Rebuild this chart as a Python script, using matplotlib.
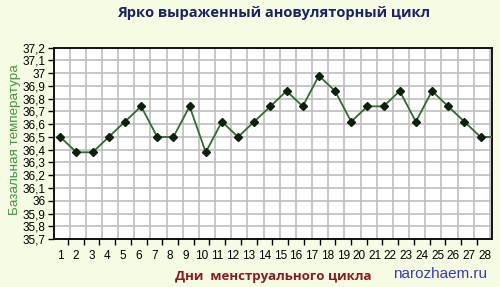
import numpy as np
import matplotlib.pyplot as plt

# basal temperature, days 1..28 (the last point sits just past the right edge)
days = np.arange(1, 29)
temp = [36.5, 36.38, 36.38, 36.5, 36.62, 36.74, 36.5, 36.5, 36.74, 36.38,
        36.62, 36.5, 36.62, 36.74, 36.86, 36.74, 36.98, 36.86, 36.62, 36.74,
        36.74, 36.86, 36.62, 36.86, 36.74, 36.62, 36.5, 36.5]
day_labels = [str(d) for d in range(1, 29)]
yticks = np.round(np.arange(35.7, 37.21, 0.1), 1)

bg = '#f6fbe4'
plt.rcParams['font.family'] = ['Liberation Sans', 'DejaVu Sans']

fig = plt.figure(figsize=(5, 2.87), dpi=100, facecolor=bg)
ax = fig.add_axes([0.107, 0.167, 0.876, 0.667])
ax.set_facecolor('white')

ax.plot(days, temp, color='#2f6d2f', lw=1.3, marker='D', ms=3.6,
        mfc='#0d1f0d', mec='#0d1f0d', zorder=3)

ax.set_xlim(0.58, 27.68)
ax.set_ylim(35.7, 37.2)

# vertical grid on category boundaries
for gx in np.arange(1.58, 27.6, 1.0):
    ax.axvline(gx, color='#bdbdbd', lw=1.2, zorder=1)
ax.set_xticks([])

ax.set_yticks(yticks)
ax.set_yticklabels([('%.1f' % v).replace('.', ',').replace(',0', '') for v in yticks],
                   fontsize=8.5)
ax.tick_params(axis='y', direction='out', length=4, width=1, pad=1.5)
ax.yaxis.grid(True, color='#bdbdbd', lw=1.2, zorder=1)
ax.set_axisbelow(True)
for s in ax.spines.values():
    s.set_linewidth(1.4)
    s.set_color('#111111')

# day labels live on their own bottom axis
lab = ax.twiny()
lab.xaxis.set_ticks_position('bottom')
lab.xaxis.set_label_position('bottom')
lab.set_xlim(0.587, 28.43)
lab.set_xticks(np.arange(1.5, 28, 1.0))
lab.set_xticklabels([])
lab.set_xticks(days, minor=True)
lab.set_xticklabels(day_labels, minor=True, fontsize=8.5)
lab.tick_params(axis='x', which='major', direction='out', length=4, width=1)
lab.tick_params(axis='x', which='minor', length=0, pad=8)
for s in lab.spines.values():
    s.set_visible(False)

fig.text(0.548, 0.955, 'Ярко выраженный ановуляторный цикл', ha='center', va='center',
         fontsize=10.5, fontweight='bold', color='#1c2266', family='Open Sans')
fig.text(0.03, 0.512, 'Базальная температура', rotation=90, ha='center', va='center',
         fontsize=9.7, color='#3c9a3c')
fig.text(0.546, 0.038, 'Дни  менструального цикла', ha='center', va='center',
         fontsize=9.5, fontweight='bold', color='#8a1c1c', family='Open Sans')
fig.text(0.88, 0.045, 'narozhaem.ru', ha='center', va='center',
         fontsize=11, color='#3a3ab8')

fig.savefig('out.png', dpi=100, facecolor=bg)
